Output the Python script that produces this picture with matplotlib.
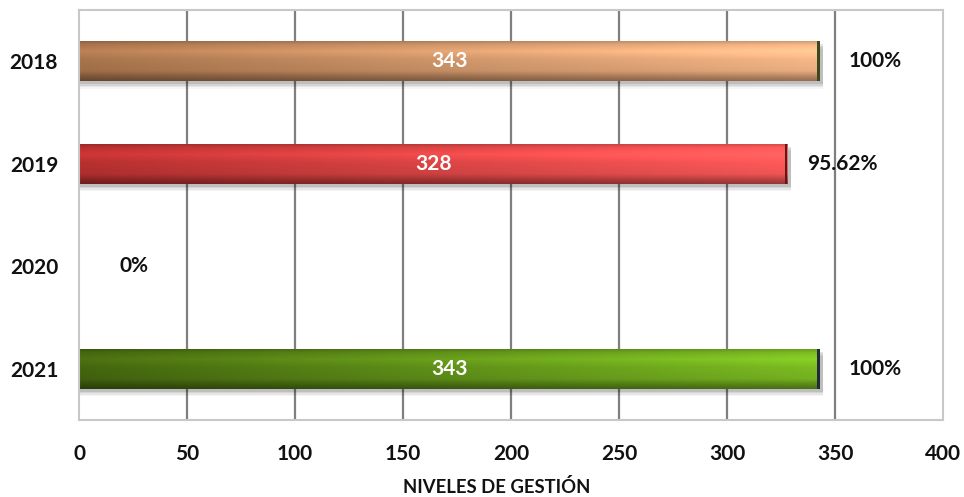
import numpy as np
import matplotlib
matplotlib.use("Agg")
import matplotlib.pyplot as plt
from matplotlib.patches import Rectangle
from matplotlib.colors import to_rgb

plt.rcParams['font.family'] = ['Lato', 'DejaVu Sans']

categories = ['2018', '2019', '2020', '2021']
values = [343, 328, 0, 343]
percent_labels = ['100%', '95.62%', '0%', '100%']
x_ticks = [0, 50, 100, 150, 200, 250, 300, 350, 400]
x_label = 'NIVELES DE GESTIÓN'
dark_colors = ['#a8744c', '#b83030', '#44660f', '#44660f']
light_colors = ['#f8b888', '#ff5a5a', '#7cbc22', '#7cbc22']
cap_colors = ['#3b4a1e', '#5a1a1a', '#1f2a3a', '#1f2a3a']

fig = plt.figure(figsize=(9.64, 4.97), dpi=100)
ax = fig.add_axes([79/964, 77/497, (943-79)/964, (420-10)/497])

ax.set_xlim(0, 400)
ypos = np.arange(len(categories))
ax.set_ylim(len(categories) - 0.5, -0.5)

for xt in x_ticks[1:-1]:
    ax.axvline(xt, color='#7f7f7f', lw=1.6, zorder=0)
for s in ax.spines.values():
    s.set_color('#c8c8c8')
    s.set_linewidth(1.5)

bar_h = 0.39
nx, ny = 256, 64
yy = np.linspace(0, 1, ny)[:, None]
prof = np.interp(yy, [0, 0.08, 0.25, 0.45, 0.75, 0.9, 1.0],
                 [0.85, 1.0, 1.12, 1.0, 0.94, 0.72, 0.6])
xx = np.linspace(0, 1, nx)[None, :]

for i, (v, lab) in enumerate(zip(values, percent_labels)):
    if v > 0:
        y0 = i - bar_h / 2
        for k, a in enumerate([0.10, 0.08, 0.06, 0.04]):
            sh = Rectangle((0, y0 + 0.03 + k * 0.015), v + 1.5, bar_h,
                           facecolor='black', alpha=a, lw=0, zorder=1)
            ax.add_patch(sh)
        c0 = np.array(to_rgb(dark_colors[i]))
        c1 = np.array(to_rgb(light_colors[i]))
        base = c0[None, None, :] * (1 - xx[..., None]) + c1[None, None, :] * xx[..., None]
        img = np.clip(base * prof[..., None], 0, 1)
        im = ax.imshow(img, extent=(0, v, i + bar_h / 2, y0), aspect='auto',
                       interpolation='bilinear', zorder=2)
        clip = Rectangle((0, y0), v, bar_h, transform=ax.transData,
                         facecolor='none', lw=0)
        ax.add_patch(clip)
        im.set_clip_path(clip)
        ax.add_patch(Rectangle((v - 1.2, y0), 1.2, bar_h, facecolor=cap_colors[i],
                               lw=0, zorder=3))
        ax.text(v / 2, i, str(v), ha='center', va='center', color='white',
                fontsize=15, fontweight='bold', zorder=4)
    ax.annotate(lab, xy=(v, i), xytext=(39.6, 0), textcoords='offset points',
                ha='center', va='center', fontsize=15, fontweight='bold',
                color='#111111', zorder=4)

ax.set_yticks(ypos)
ax.set_yticklabels(categories, fontsize=15, fontweight='bold', color='#111111')
ax.set_xticks(x_ticks)
ax.set_xticklabels([str(t) for t in x_ticks], fontsize=15, fontweight='bold',
                   color='#111111')
ax.tick_params(axis='both', length=0)
ax.tick_params(axis='x', pad=17)
ax.tick_params(axis='y', pad=15)
fig.text(497/964, 1/497, x_label, ha='center', va='bottom', fontsize=13.3,
         fontweight='bold', color='#111111')

fig.savefig('out.png', dpi=100, facecolor='white')
